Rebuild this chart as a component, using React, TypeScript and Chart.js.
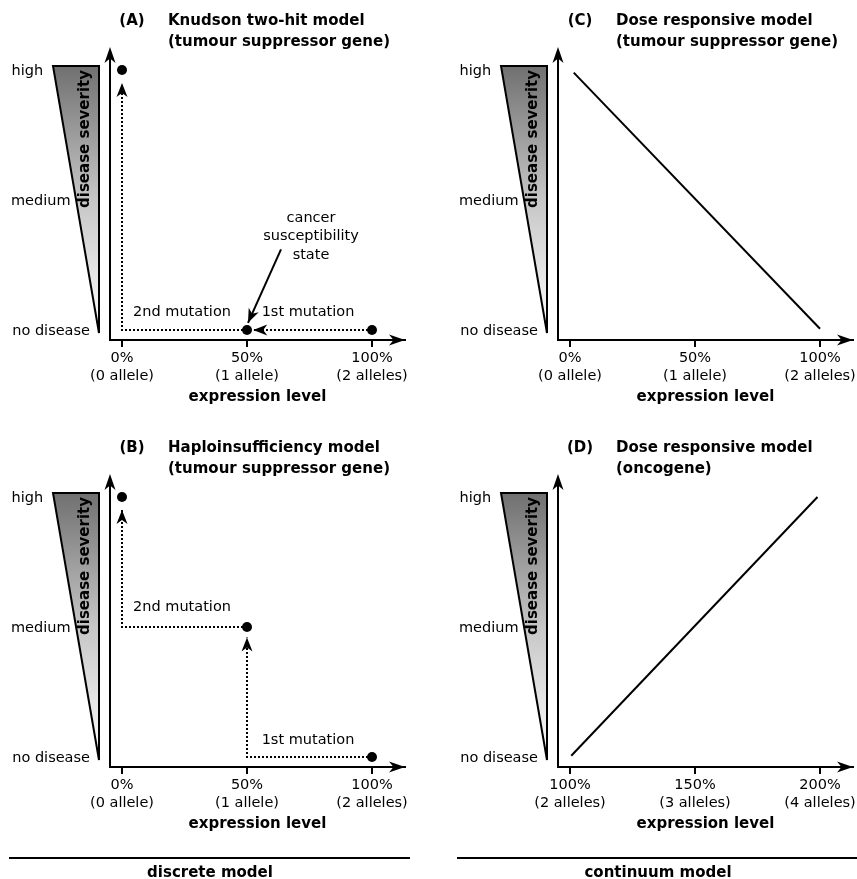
import React, { useEffect, useRef } from 'react';
import { Chart, registerables } from 'chart.js';

Chart.register(...registerables);
Chart.defaults.font.family = 'DejaVu Sans';

// ---------- shared labels ----------
const severityLevels = [0, 1, 2];
const severityNames = ['no disease', 'medium', 'high'];
const severityAxisTitle = 'disease severity';
const expressionTitle = 'expression level';
const sectionNames = ['discrete model', 'continuum model'];

// ---------- panel A ----------
const aLetter = '(A)';
const aTitle = ['Knudson two-hit model', '(tumour suppressor gene)'];
const aTickValues = [0, 50, 100];
const aTickLabels = [['0%', '(0 allele)'], ['50%', '(1 allele)'], ['100%', '(2 alleles)']];
const aStateX = [0, 50, 100];
const aStateY = [2, 0, 0];
const aFirstX = [100, 52.5];
const aFirstY = [0, 0];
const aSecondX = [50, 0, 0];
const aSecondY = [0, 0, 1.9];
const aPointerX = [63.6, 50.4];
const aPointerY = [0.62, 0.055];
const aNoteText = [['2nd mutation'], ['1st mutation'], ['cancer', 'susceptibility', 'state']];
const aNoteX = [24, 74.4, 75.6];
const aNoteY = [0.14, 0.14, 0.72];

// ---------- panel B ----------
const bLetter = '(B)';
const bTitle = ['Haploinsufficiency model', '(tumour suppressor gene)'];
const bTickValues = [0, 50, 100];
const bTickLabels = [['0%', '(0 allele)'], ['50%', '(1 allele)'], ['100%', '(2 alleles)']];
const bStateX = [0, 50, 100];
const bStateY = [2, 1, 0];
const bFirstX = [100, 50, 50];
const bFirstY = [0, 0, 0.92];
const bSecondX = [50, 0, 0];
const bSecondY = [1, 1, 1.9];
const bNoteText = [['2nd mutation'], ['1st mutation']];
const bNoteX = [24, 74.4];
const bNoteY = [1.15, 0.13];

// ---------- panel C ----------
const cLetter = '(C)';
const cTitle = ['Dose responsive model', '(tumour suppressor gene)'];
const cTickValues = [0, 50, 100];
const cTickLabels = [['0%', '(0 allele)'], ['50%', '(1 allele)'], ['100%', '(2 alleles)']];
const cLineX = [1.5, 100];
const cLineY = [1.98, 0.01];

// ---------- panel D ----------
const dLetter = '(D)';
const dTitle = ['Dose responsive model', '(oncogene)'];
const dTickValues = [100, 150, 200];
const dTickLabels = [['100%', '(2 alleles)'], ['150%', '(3 alleles)'], ['200%', '(4 alleles)']];
const dLineX = [100.5, 199];
const dLineY = [0.01, 2];

// ---------- styling ----------
const INK = '#000';
const FONT = 'DejaVu Sans';
const FS = 14.5;
const FSB = 15;
const CANVAS_W = 420;
const labelGaps = [8.5, 5.5, 10.5];

const pts = (xs: number[], ys: number[]) => xs.map((x, i) => ({ x, y: ys[i] }));

const stateSet = (xs: number[], ys: number[]) => ({
  data: pts(xs, ys),
  showLine: false,
  pointRadius: 5,
  pointBackgroundColor: '#000',
  pointBorderWidth: 0,
});
const pathSet = (xs: number[], ys: number[], dotted: boolean, arrow: boolean) => ({
  data: pts(xs, ys),
  showLine: true,
  borderColor: '#000',
  borderWidth: 2,
  borderDash: dotted ? [2, 2] : [],
  pointRadius: 0,
  fill: false,
  tension: 0,
  arrowHead: arrow,
});

type Spec = {
  left: number;
  top: number;
  height: number;
  letter: string;
  title: string[];
  tickValues: number[];
  tickLabels: string[][];
  xMin: number;
  xMax: number;
  datasets: any[];
  notes: { text: string[]; x: number; y: number }[];
  section?: string;
};

const notesOf = (t: string[][], xs: number[], ys: number[]) => t.map((text, i) => ({ text, x: xs[i], y: ys[i] }));

const specs: Spec[] = [
  {
    left: 0, top: 0, height: 427, letter: aLetter, title: aTitle,
    tickValues: aTickValues, tickLabels: aTickLabels, xMin: -4.8, xMax: 113.2,
    datasets: [
      stateSet(aStateX, aStateY),
      pathSet(aFirstX, aFirstY, true, true),
      pathSet(aSecondX, aSecondY, true, true),
      pathSet(aPointerX, aPointerY, false, true),
    ],
    notes: notesOf(aNoteText, aNoteX, aNoteY),
  },
  {
    left: 0, top: 427, height: 452, letter: bLetter, title: bTitle,
    tickValues: bTickValues, tickLabels: bTickLabels, xMin: -4.8, xMax: 113.2,
    datasets: [
      stateSet(bStateX, bStateY),
      pathSet(bFirstX, bFirstY, true, true),
      pathSet(bSecondX, bSecondY, true, true),
    ],
    notes: notesOf(bNoteText, bNoteX, bNoteY),
    section: sectionNames[0],
  },
  {
    left: 448, top: 0, height: 427, letter: cLetter, title: cTitle,
    tickValues: cTickValues, tickLabels: cTickLabels, xMin: -4.8, xMax: 113.2,
    datasets: [pathSet(cLineX, cLineY, false, false)],
    notes: [],
  },
  {
    left: 448, top: 427, height: 452, letter: dLetter, title: dTitle,
    tickValues: dTickValues, tickLabels: dTickLabels, xMin: 95.2, xMax: 213.2,
    datasets: [pathSet(dLineX, dLineY, false, false)],
    notes: [],
    section: sectionNames[1],
  },
];

function drawHead(ctx: CanvasRenderingContext2D, x0: number, y0: number, x1: number, y1: number, len: number, half: number, notch: number) {
  const dx = x1 - x0, dy = y1 - y0;
  const d = Math.hypot(dx, dy) || 1;
  const ux = dx / d, uy = dy / d;
  const px = -uy, py = ux;
  const bx = x1 - ux * len, by = y1 - uy * len;
  ctx.beginPath();
  ctx.moveTo(x1, y1);
  ctx.lineTo(bx + px * half, by + py * half);
  ctx.lineTo(x1 - ux * (len - notch), y1 - uy * (len - notch));
  ctx.lineTo(bx - px * half, by - py * half);
  ctx.closePath();
  ctx.fillStyle = '#000';
  ctx.fill();
}

function makePlugin(spec: Spec) {
  return {
    id: 'panelDecor',
    afterDatasetsDraw(chart: any) {
      const ctx = chart.ctx as CanvasRenderingContext2D;
      chart.data.datasets.forEach((ds: any, i: number) => {
        if (!ds.arrowHead) return;
        const meta = chart.getDatasetMeta(i);
        const n = meta.data.length;
        const a = meta.data[n - 2];
        const b = meta.data[n - 1];
        ctx.save();
        drawHead(ctx, a.x, a.y, b.x, b.y, 14, 5.5, 4);
        ctx.restore();
      });
    },
    afterDraw(chart: any) {
      const ctx = chart.ctx as CanvasRenderingContext2D;
      const ca = chart.chartArea;
      const xs = chart.scales.x;
      const ys = chart.scales.y;
      ctx.save();

      // y axis + arrows
      ctx.strokeStyle = '#000';
      ctx.lineWidth = 2;
      ctx.beginPath();
      ctx.moveTo(ca.left, ca.bottom + 1);
      ctx.lineTo(ca.left, ca.top + 8);
      ctx.stroke();
      drawHead(ctx, ca.left, ca.bottom, ca.left, ca.top, 16, 5.5, 4.5);
      drawHead(ctx, ca.left, ca.bottom, ca.right, ca.bottom, 16, 5.5, 4.5);

      // severity wedge
      const yHigh = ys.getPixelForValue(2);
      const yNone = ys.getPixelForValue(0);
      const triTop = yHigh - 4;
      const triBot = yNone + 3;
      const xr = ca.left - 11;
      const xl = ca.left - 57;
      const g = ctx.createLinearGradient(0, triTop, 0, triBot);
      g.addColorStop(0, '#707070');
      g.addColorStop(0.5, '#c6c6c6');
      g.addColorStop(1, '#ffffff');
      ctx.beginPath();
      ctx.moveTo(xl, triTop);
      ctx.lineTo(xr, triTop);
      ctx.lineTo(xr, triBot);
      ctx.closePath();
      ctx.fillStyle = g;
      ctx.fill();
      ctx.lineJoin = 'miter';
      ctx.lineWidth = 2;
      ctx.stroke();

      // rotated severity title
      ctx.save();
      ctx.translate(ca.left - 21.5, triTop + 4);
      ctx.rotate(-Math.PI / 2);
      ctx.font = `bold ${FSB}px ${FONT}`;
      ctx.fillStyle = INK;
      ctx.textAlign = 'right';
      ctx.textBaseline = 'alphabetic';
      ctx.fillText(severityAxisTitle, 0, 0);
      ctx.restore();

      // severity level labels hugging the wedge
      ctx.font = `${FS}px ${FONT}`;
      ctx.fillStyle = INK;
      ctx.textAlign = 'right';
      ctx.textBaseline = 'middle';
      severityLevels.forEach((lv, i) => {
        const py = ys.getPixelForValue(lv);
        const hx = xl + ((py - triTop) / (triBot - triTop)) * (xr - xl);
        ctx.fillText(severityNames[i], hx - labelGaps[i], py + 1);
      });

      // panel title
      ctx.font = `bold ${FSB}px ${FONT}`;
      ctx.textAlign = 'center';
      ctx.fillText(spec.letter, ca.left + 22, ca.top - 26);
      ctx.textAlign = 'left';
      spec.title.forEach((t, i) => ctx.fillText(t, ca.left + 58, ca.top - 26 + i * 21));

      // notes
      ctx.font = `${FS}px ${FONT}`;
      ctx.textAlign = 'center';
      spec.notes.forEach((nt) => {
        const cx = xs.getPixelForValue(nt.x);
        const cy = ys.getPixelForValue(nt.y);
        const n = nt.text.length;
        nt.text.forEach((t, i) => ctx.fillText(t, cx, cy + (i - (n - 1) / 2) * 18.5));
      });

      // section rule
      if (spec.section) {
        ctx.beginPath();
        ctx.lineWidth = 2;
        ctx.moveTo(9, ca.bottom + 91);
        ctx.lineTo(410, ca.bottom + 91);
        ctx.stroke();
        ctx.font = `bold ${FSB}px ${FONT}`;
        ctx.textAlign = 'center';
        ctx.fillText(spec.section, 210, ca.bottom + 106);
      }
      ctx.restore();
    },
  };
}

function buildConfig(spec: Spec): any {
  return {
    type: 'scatter',
    data: { datasets: spec.datasets },
    options: {
      animation: false,
      responsive: false,
      events: [],
      layout: { padding: { left: 110, right: CANVAS_W - 405, top: 47, bottom: spec.height - 340 - 70 } },
      plugins: { legend: { display: false }, tooltip: { enabled: false }, title: { display: false } },
      scales: {
        x: {
          type: 'linear',
          min: spec.xMin,
          max: spec.xMax,
          afterBuildTicks: (s: any) => {
            s.ticks = spec.tickValues.map((v) => ({ value: v }));
          },
          afterFit: (s: any) => {
            s.height = 70;
          },
          ticks: {
            callback: (v: number) => {
              const i = spec.tickValues.indexOf(v);
              return i >= 0 ? spec.tickLabels[i] : '';
            },
            font: { family: FONT, size: FS, lineHeight: '18px' },
            color: INK,
            padding: 2,
            maxRotation: 0,
            autoSkip: false,
          },
          grid: { display: true, drawOnChartArea: false, drawTicks: true, tickLength: 7, color: '#000', lineWidth: 2 },
          border: { display: true, color: '#000', width: 2 },
          title: {
            display: true,
            text: expressionTitle,
            font: { family: FONT, size: FSB, weight: 'bold' },
            color: INK,
            padding: { top: 2, bottom: 4 },
          },
        },
        y: { type: 'linear', display: false, min: -0.077, max: 2.177 },
      },
    },
    plugins: [makePlugin(spec)],
  };
}

function Panel({ spec }: { spec: Spec }) {
  const ref = useRef<HTMLCanvasElement>(null);
  useEffect(() => {
    const chart = new Chart(ref.current as HTMLCanvasElement, buildConfig(spec));
    return () => chart.destroy();
  }, [spec]);
  return (
    <canvas
      ref={ref}
      width={CANVAS_W}
      height={spec.height}
      style={{ position: 'absolute', left: spec.left, top: spec.top, width: CANVAS_W, height: spec.height, display: 'block' }}
    />
  );
}

export default function App() {
  return (
    <div style={{ position: 'absolute', left: 0, top: 0, width: 857, height: 879, overflow: 'hidden', background: '#fff' }}>
      {specs.map((s, i) => (
        <Panel key={i} spec={s} />
      ))}
    </div>
  );
}
